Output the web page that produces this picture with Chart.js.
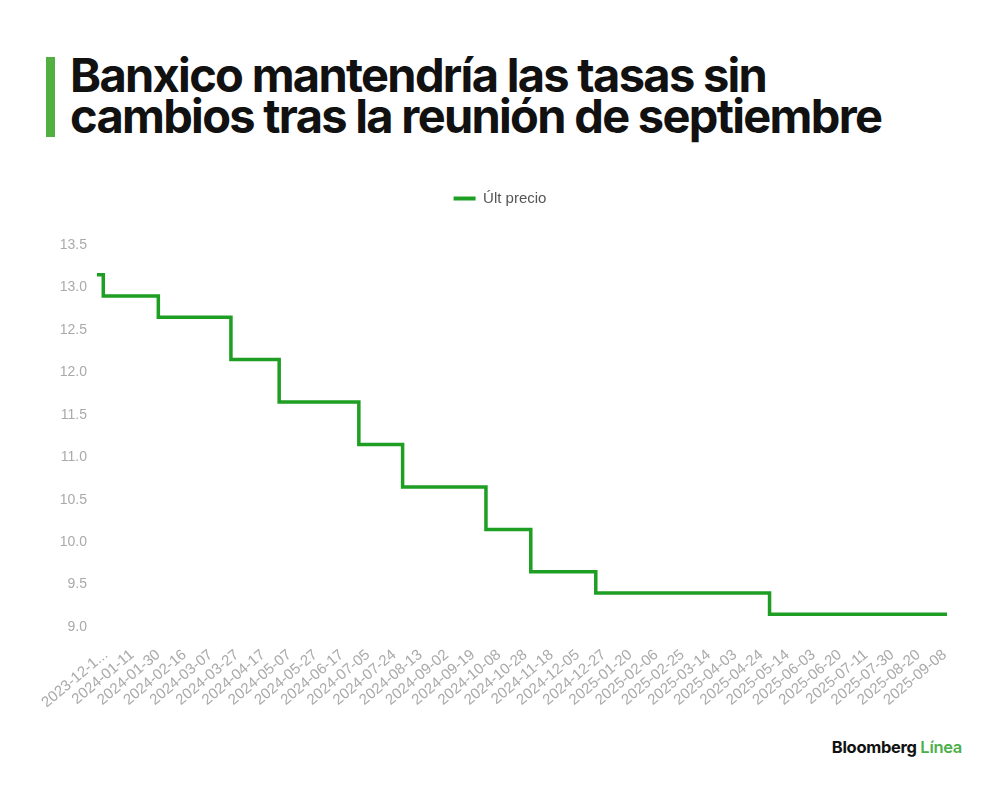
<!DOCTYPE html>
<html lang="es">
<head>
<meta charset="utf-8">
<script src="https://cdn.jsdelivr.net/npm/chart.js@4"></script>
<style>
  html, body { margin: 0; padding: 0; background: #fff; }
  body { width: 1000px; height: 790px; position: relative; overflow: hidden; }
  .barra { position: absolute; left: 46px; top: 57px; width: 9px; height: 80px; background: #52b043; }
  .titulo {
    position: absolute; left: 70px; top: 54px; margin: 0;
    font-family: Inter, sans-serif; font-weight: 700; font-size: 47px; line-height: 41px;
    letter-spacing: -1.7px; color: #111;
  }
  .contenedor { position: absolute; left: 0; top: 175px; width: 1000px; height: 532px; }
  .logo {
    position: absolute; right: 38px; top: 737px;
    font-family: Inter, sans-serif; font-weight: 700; font-size: 16.5px; letter-spacing: -0.3px; color: #111;
  }
  .logo span { color: #4cb04a; font-weight: 600; }
</style>
</head>
<body>
<div class="barra"></div>
<h1 class="titulo">Banxico mantendría las tasas sin<br>cambios tras la reunión de septiembre</h1>
<div class="contenedor"><canvas id="grafico"></canvas></div>
<div class="logo">Bloomberg <span>Línea</span></div>

<script>
// etiquetas del eje x (una cada ~13 días hábiles)
const etiquetas = [
  "2023-12-1...", "2024-01-11", "2024-01-30", "2024-02-16", "2024-03-07", "2024-03-27",
  "2024-04-17", "2024-05-07", "2024-05-27", "2024-06-17", "2024-07-05", "2024-07-24",
  "2024-08-13", "2024-09-02", "2024-09-19", "2024-10-08", "2024-10-28", "2024-11-18",
  "2024-12-05", "2024-12-27", "2025-01-20", "2025-02-06", "2025-02-25", "2025-03-14",
  "2025-04-03", "2025-04-24", "2025-05-14", "2025-06-03", "2025-06-20", "2025-07-11",
  "2025-07-30", "2025-08-20", "2025-09-08"
];

// cambios de nivel, posición medida en unidades de etiqueta (0 = primera etiqueta)
const posiciones = [-0.34, -0.10, 2.00, 4.77, 6.61, 9.65, 11.32, 14.50, 16.21, 18.69, 25.32, 32.09];
const tasas = [13.15, 12.90, 12.65, 12.15, 11.65, 11.15, 10.65, 10.15, 9.65, 9.40, 9.15, 9.15];

const marcasY = [9.0, 9.5, 10.0, 10.5, 11.0, 11.5, 12.0, 12.5, 13.0, 13.5];

const verde = "#1e9e22";
const fuenteEjes = "'Liberation Sans', Arial, sans-serif";

// separa la leyenda del área del gráfico
const margenLeyenda = {
  id: "margenLeyenda",
  beforeInit(chart) {
    const fitOriginal = chart.legend.fit;
    chart.legend.fit = function () {
      fitOriginal.bind(chart.legend)();
      this.height += 29;
    };
  }
};

new Chart(document.getElementById("grafico"), {
  type: "line",
  data: {
    datasets: [{
      label: "Últ precio",
      data: posiciones.map((x, i) => ({ x: x, y: tasas[i] })),
      borderColor: verde,
      backgroundColor: verde,
      borderWidth: 3.5,
      stepped: true,
      pointRadius: 0,
      borderJoinStyle: "miter",
      borderCapStyle: "butt",
      fill: false
    }]
  },
  options: {
    responsive: true,
    maintainAspectRatio: false,
    animation: false,
    layout: { padding: { left: 53, right: 53, top: 0, bottom: 0 } },
    plugins: {
      tooltip: { enabled: false },
      legend: {
        position: "top",
        labels: {
          boxWidth: 22,
          boxHeight: 4,
          padding: 16,
          color: "#555",
          font: { family: fuenteEjes, size: 15 },
          generateLabels: (chart) =>
            Chart.defaults.plugins.legend.labels.generateLabels(chart).map(l => ({ ...l, lineWidth: 0 }))
        }
      }
    },
    scales: {
      x: {
        type: "linear",
        min: posiciones[0],
        max: posiciones[posiciones.length - 1],
        grid: { display: false, drawTicks: false },
        border: { display: false },
        afterBuildTicks: (scale) => {
          scale.ticks = etiquetas.map((_, i) => ({ value: i }));
        },
        afterFit: (scale) => { scale.height = 80; },
        ticks: {
          autoSkip: false,
          minRotation: 40,
          maxRotation: 40,
          padding: 19,
          color: "#aaa",
          font: { family: fuenteEjes, size: 15 },
          callback: (v) => etiquetas[v]
        }
      },
      y: {
        min: 9.0,
        max: 13.5,
        grid: { display: false, drawTicks: false },
        border: { display: false },
        afterBuildTicks: (scale) => {
          scale.ticks = marcasY.map(v => ({ value: v }));
        },
        afterFit: (scale) => { scale.width = 44; },
        ticks: {
          padding: 10,
          color: "#aaa",
          font: { family: fuenteEjes, size: 14 },
          callback: (v) => v.toFixed(1)
        }
      }
    }
  },
  plugins: [margenLeyenda]
});
</script>
</body>
</html>
